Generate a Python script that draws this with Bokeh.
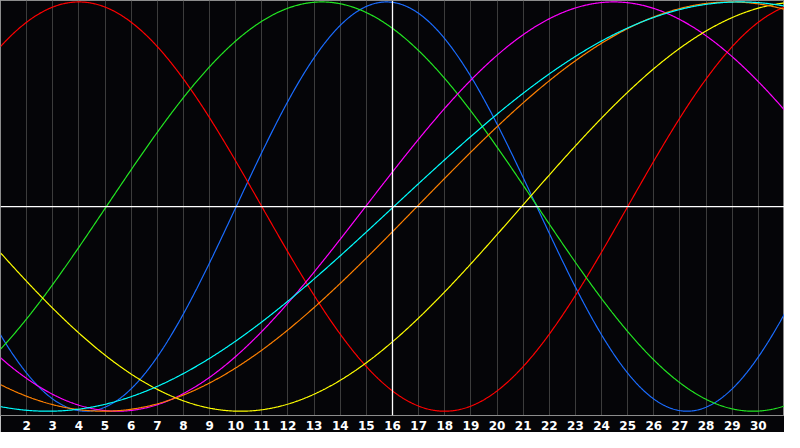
import numpy as np
from bokeh.plotting import figure
from bokeh.models import FixedTicker, Span, ColumnDataSource
from bokeh.embed import file_html
from bokeh.resources import INLINE

# Biorhythm cycles
cycle_names = ["Physical", "Emotional", "Intellectual", "Intuitive",
               "Aesthetic", "Awareness", "Spiritual"]
cycle_periods = [23, 28, 33, 38, 43, 48, 53]          # days
cycle_zero_up = [10.02, -3.0, 5.05, 14.97, 20.94, 16.94, 16.05]  # day of upward zero crossing
cycle_colors = ["#1a6cff", "#ff0000", "#22e622", "#ff00ff",
                "#ffff00", "#ff8000", "#00ffff"]

day_labels = list(range(2, 31))
first_day, last_day = 1, 31
today = 16

BG = "#050508"

p = figure(width=784, height=432, x_range=(first_day, last_day),
           y_range=(-1.021, 1.007), output_backend="svg",
           toolbar_location=None, background_fill_color=BG,
           border_fill_color=BG, min_border=0)

p.yaxis.visible = False
p.ygrid.visible = False
p.xgrid.ticker = FixedTicker(ticks=day_labels)
p.xgrid.grid_line_color = "#3c3c3c"
p.xgrid.grid_line_width = 1
p.outline_line_color = "#8c8c8c"

ax = p.xaxis[0]
ax.ticker = FixedTicker(ticks=day_labels)
ax.axis_line_color = "#8c8c8c"
ax.major_tick_line_color = None
ax.minor_tick_line_color = None
ax.major_tick_out = 0
ax.major_tick_in = 0
ax.major_label_standoff = 5
ax.major_label_text_color = "white"
ax.major_label_text_font = "DejaVu Sans"
ax.major_label_text_font_style = "bold"
ax.major_label_text_font_size = "12px"

t = np.linspace(first_day, last_day, 900)
for name, per, z, col in zip(cycle_names, cycle_periods, cycle_zero_up, cycle_colors):
    y = np.sin(2 * np.pi * (t - z) / per)
    src = ColumnDataSource(dict(x=t, y=y))
    p.line("x", "y", source=src, line_color=col, line_width=1.2)

p.add_layout(Span(location=0, dimension="width", line_color="white", line_width=1.3))
p.add_layout(Span(location=today, dimension="height", line_color="white", line_width=1.3))

open("out.html", "w").write(file_html(p, INLINE))
